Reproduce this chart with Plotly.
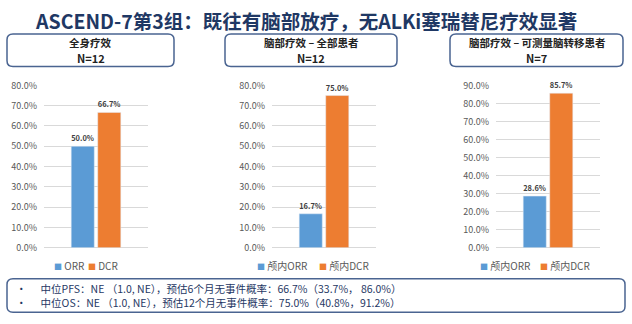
import plotly.graph_objects as go

W, H = 632, 324

# ---------------- data ----------------
panel_titles = ["全身疗效", "脑部疗效 – 全部患者", "脑部疗效 – 可测量脑转移患者"]
panel_n = ["N=12", "N=12", "N=7"]
orr_names = ["ORR", "颅内ORR", "颅内ORR"]
dcr_names = ["DCR", "颅内DCR", "颅内DCR"]
orr_values = [0.500, 0.167, 0.286]
dcr_values = [0.667, 0.750, 0.857]
y_max = [0.8, 0.8, 0.9]
title_text = "ASCEND-7第3组：既往有脑部放疗，无ALKi塞瑞替尼疗效显著"
notes = [
    "中位PFS：NE （1.0, NE），预估6个月无事件概率：66.7%（33.7%， 86.0%）",
    "中位OS：NE （1.0, NE），预估12个月无事件概率：75.0%（40.8%，91.2%）",
]

ORR_COLOR = "#5B9BD5"
DCR_COLOR = "#ED7D31"
FONT = "Noto Sans CJK SC"


def px(x):
    return x / W


def py(y):
    return 1 - y / H


plot_x = [(44, 148), (272, 376), (496, 600)]
plot_y = (py(250.7), py(81.7))
# pixel x of each legend entry's left edge (ORR, DCR) per panel
legend_pos = [(52, 86), (255, 317), (478, 538)]

fig = go.Figure()
layout_extra = {}
annotations = []
for i in range(3):
    sfx = "" if i == 0 else str(i + 1)
    for k, (name, val, col) in enumerate(((orr_names[i], orr_values[i], ORR_COLOR),
                                          (dcr_names[i], dcr_values[i], DCR_COLOR))):
        fig.add_trace(go.Bar(
            x=[0], y=[val], name=name, marker_color=col,
            xaxis="x" + sfx, yaxis="y" + sfx, showlegend=False,
            texttemplate="%{y:.1%}", textposition="outside", cliponaxis=False,
            textfont=dict(family=FONT, size=11, color="#404040", weight="bold"),
        ))
        # compact legend entry (square key + series name)
        annotations.append(dict(
            xref="paper", yref="paper", x=px(legend_pos[i][k]), y=py(269),
            text=f"<span style='color:{col};font-size:8px'>■</span> {name}",
            showarrow=False, xanchor="left", yanchor="middle",
            font=dict(family=FONT, size=10, color="#595959")))

    layout_extra["xaxis" + sfx] = dict(domain=[px(plot_x[i][0]), px(plot_x[i][1])],
                                       anchor="y" + sfx, range=[-0.5, 0.5],
                                       showticklabels=False, showgrid=False, zeroline=False,
                                       showline=False, fixedrange=True)
    layout_extra["yaxis" + sfx] = dict(domain=list(plot_y), anchor="x" + sfx,
                                       range=[0, y_max[i]], dtick=0.1, tickformat=".1%",
                                       showgrid=True, gridcolor="#D9D9D9", gridwidth=1,
                                       zeroline=True, zerolinecolor="#D9D9D9", zerolinewidth=1,
                                       showline=False, ticks="", ticklabelstandoff=6,
                                       tickfont=dict(family=FONT, size=9, color="#595959"))


def rounded_rect(x0, y0, x1, y1, r):
    X = lambda v: f"{px(v):.5f}"
    Y = lambda v: f"{py(v):.5f}"
    return (f"M {X(x0 + r)},{Y(y0)} L {X(x1 - r)},{Y(y0)} Q {X(x1)},{Y(y0)} {X(x1)},{Y(y0 + r)} "
            f"L {X(x1)},{Y(y1 - r)} Q {X(x1)},{Y(y1)} {X(x1 - r)},{Y(y1)} "
            f"L {X(x0 + r)},{Y(y1)} Q {X(x0)},{Y(y1)} {X(x0)},{Y(y1 - r)} "
            f"L {X(x0)},{Y(y0 + r)} Q {X(x0)},{Y(y0)} {X(x0 + r)},{Y(y0)} Z")


BOX_COLOR = "#4A6491"
header_boxes = [(7, 28, 174, 62), (225, 28, 397, 62), (450, 28, 623, 62)]
shapes = []
for i, (x0, y0, x1, y1) in enumerate(header_boxes):
    shapes.append(dict(type="path", xref="paper", yref="paper",
                       path=rounded_rect(x0, y0, x1, y1, 6),
                       line=dict(color=BOX_COLOR, width=1.5), fillcolor="white", layer="below"))
    cx = (x0 + x1) / 2
    annotations.append(dict(xref="paper", yref="paper", x=px(cx), y=py(37.5),
                            text=f"<b>{panel_titles[i]}</b>", showarrow=False,
                            xanchor="center", yanchor="middle",
                            font=dict(family=FONT, size=10.5, color="#222222")))
    annotations.append(dict(xref="paper", yref="paper", x=px(cx), y=py(53.5),
                            text=f"<b>{panel_n[i]}</b>", showarrow=False,
                            xanchor="center", yanchor="middle",
                            font=dict(family=FONT, size=11, color="#222222")))

# bottom note box
shapes.append(dict(type="path", xref="paper", yref="paper",
                   path=rounded_rect(7, 283, 625, 318, 6),
                   line=dict(color=BOX_COLOR, width=1.5), fillcolor="white", layer="below"))
note_text = "<br>".join("•" + "\u00a0" * 6 + t for t in notes)
annotations.append(dict(xref="paper", yref="paper", x=px(14), y=py(300.5), text=note_text,
                        showarrow=False, xanchor="left", yanchor="middle", align="left",
                        font=dict(family=FONT, size=10.5, color="#1F3864")))

# title
annotations.append(dict(xref="paper", yref="paper", x=px(306), y=py(14),
                        text=f"<b>{title_text}</b>", showarrow=False,
                        xanchor="center", yanchor="middle",
                        font=dict(family=FONT, size=19.5, color="#1F3864")))

fig.update_layout(
    width=W, height=H, margin=dict(l=0, r=0, t=0, b=0),
    paper_bgcolor="white", plot_bgcolor="white", showlegend=False,
    barmode="group", bargap=0.49, bargroupgap=0.13,
    shapes=shapes, annotations=annotations,
    **layout_extra,
)

fig.write_html("out.html")
